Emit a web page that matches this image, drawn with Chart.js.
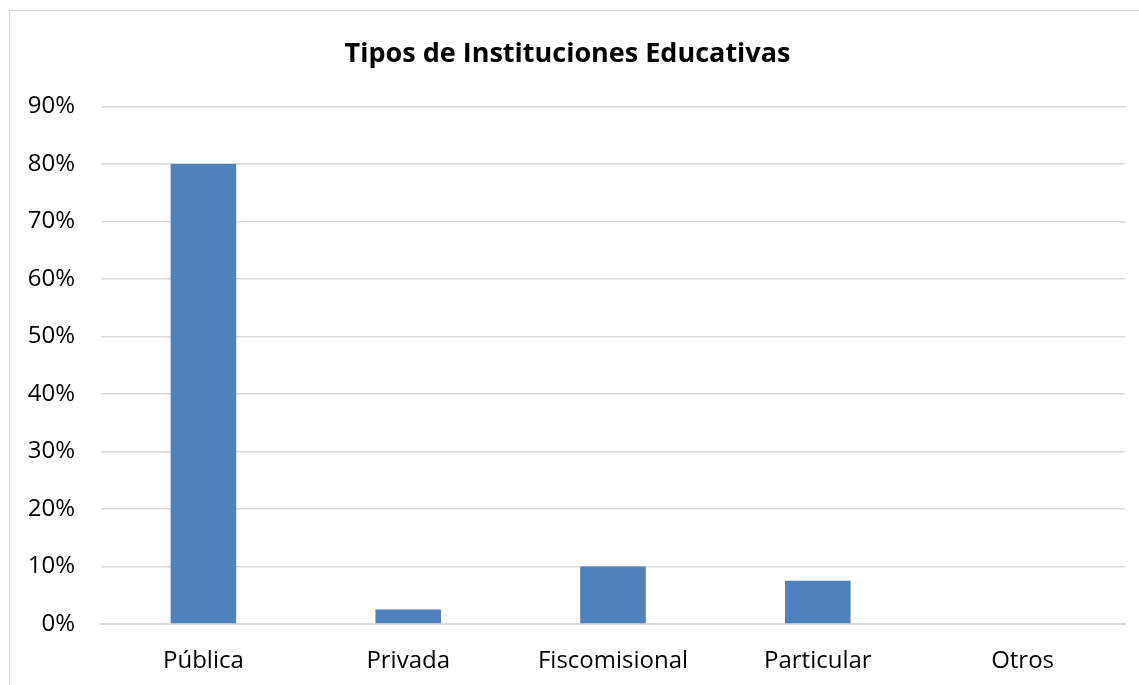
<!DOCTYPE html>
<html>
<head>
<meta charset="utf-8">
<script src="https://cdn.jsdelivr.net/npm/chart.js@4/dist/chart.umd.min.js"></script>
<style>
  html, body { margin: 0; padding: 0; background: #fff; overflow: hidden; }
  #frame { position: absolute; left: 9px; top: 10px; width: 1150px; height: 700px; border: 1px solid #d9d9d9; }
  #wrap { position: absolute; left: 10px; top: 11px; width: 1129px; height: 674px; }
</style>
</head>
<body>
<div id="frame"></div>
<div id="wrap"><canvas id="chart"></canvas></div>
<script>
// data
var categories = ['Pública', 'Privada', 'Fiscomisional', 'Particular', 'Otros'];
var percentages = [80, 2.5, 10, 7.5, 0];
var chartTitle = 'Tipos de Instituciones Educativas';

window.addEventListener("load", () => {
    var ctx = document.getElementById('chart').getContext('2d');
    var barChart = new Chart(ctx, {
        type: 'bar',
        data: {
            labels: categories,
            datasets: [{
                label: 'tipos',
                data: percentages,
                backgroundColor: '#4f81bd',
                barPercentage: 0.32,
                categoryPercentage: 1
            }]
        },
        options: {
            responsive: true,
            maintainAspectRatio: false,
            animation: false,
            layout: { padding: { left: 0, right: 14, top: 0, bottom: 0 } },
            plugins: {
                legend: { display: false },
                tooltip: { enabled: false },
                title: {
                    display: true,
                    text: chartTitle,
                    color: '#000',
                    font: { family: 'Open Sans', size: 27, weight: 'bold' },
                    padding: { top: 27, bottom: 36 }
                }
            },
            scales: {
                x: {
                    grid: { display: false },
                    border: { display: true, color: '#d9d9d9', width: 2 },
                    ticks: {
                        color: '#000',
                        font: { family: 'Open Sans', size: 24 },
                        padding: 15
                    },
                    afterFit: function (scale) { scale.height = 61; }
                },
                y: {
                    min: 0,
                    max: 90,
                    grid: { color: '#d9d9d9', lineWidth: 1.5, drawTicks: false },
                    border: { display: false },
                    ticks: {
                        stepSize: 10,
                        color: '#000',
                        font: { family: 'Open Sans', size: 24 },
                        padding: 26,
                        callback: function (v) { return v + '%'; }
                    },
                    afterFit: function (scale) { scale.width = 91; }
                }
            }
        }
    });
});
</script>
</body>
</html>
